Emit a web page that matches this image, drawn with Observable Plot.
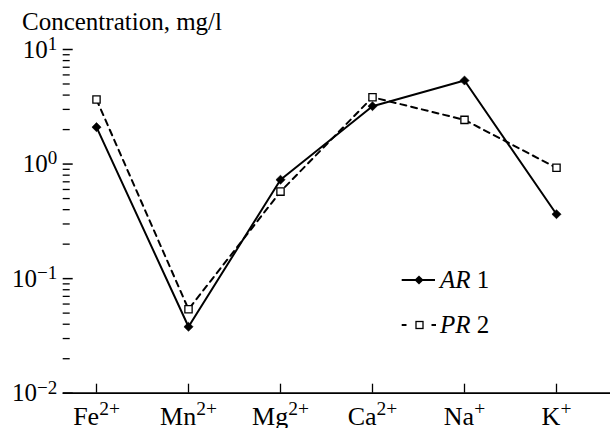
<!DOCTYPE html>
<html><head><meta charset="utf-8">
<script src="https://cdn.jsdelivr.net/npm/d3@7"></script>
<script src="https://cdn.jsdelivr.net/npm/@observablehq/plot@0.6"></script>
<style>
body{margin:0;background:#fff;}
#wrap{position:relative;width:610px;height:428px;font-family:"Liberation Serif","Times New Roman",serif;}
#title{position:absolute;left:22px;top:9px;font-size:25px;line-height:25px;color:#000;white-space:nowrap;}
#legend{position:absolute;left:0;top:0;pointer-events:none;}
</style></head><body>
<div id="wrap"><div id="title">Concentration, mg/l</div></div>
<script>
// ---- data ----
const ions = ["Fe", "Mn", "Mg", "Ca", "Na", "K"];
const charges = ["2+", "2+", "2+", "2+", "+", "+"];
const arValues = [2.1, 0.038, 0.73, 3.2, 5.36, 0.365];
const prValues = [3.66, 0.054, 0.575, 3.83, 2.43, 0.927];
const seriesItalic = ["AR", "PR"];
const seriesNumber = ["1", "2"];
const yTicks = [0.01, 0.1, 1, 10];
const yExponents = ["\u22122", "\u22121", "0", "1"];

const data = ions.map((ion, i) => ({ion, ar: arValues[i], pr: prValues[i]}));

const W = 610, H = 428, ML = 62.7, MR = 0, MT = 49, MB = 35.3;
const frameW = W - ML - MR, frameH = H - MT - MB;
const allTicks = d3.scaleLog().domain([0.01, 10]).ticks();
const minor = allTicks.filter(t => !yTicks.some(m => Math.abs(m - t) / m < 1e-9));
const font = '"Liberation Serif","Times New Roman",serif';

const chart = Plot.plot({
  width: W, height: H,
  marginLeft: ML, marginRight: MR, marginTop: MT, marginBottom: MB,
  style: {fontFamily: font, fontSize: "25px", background: "white", color: "black", overflow: "visible"},
  x: {type: "point", domain: ions, range: [96, 556.7], padding: 0},
  y: {type: "log", domain: [0.01, 10]},
  marks: [
    Plot.ruleY([0.01], {stroke: "black", strokeWidth: 1.8}),
    Plot.axisY({ticks: yTicks, tickSize: 0, tickPadding: 6, fontSize: 25, line: true, stroke: "black", strokeWidth: 1.8,
      tickFormat: d => "10^" + yExponents[yTicks.indexOf(d)], label: null}),
    Plot.axisX({tickSize: 0, tickPadding: 13.5, fontSize: 26, tickFormat: d => d, label: null}),
    Plot.tickY(minor, {y: d => d, insetRight: frameW - 7, stroke: "black", strokeWidth: 1.3}),
    Plot.tickY(yTicks, {y: d => d, insetRight: frameW - 10, stroke: "black", strokeWidth: 1.5}),
    Plot.tickX(ions, {x: d => d, insetTop: frameH - 9, stroke: "black", strokeWidth: 1.3}),
    Plot.line(data, {x: "ion", y: "pr", stroke: "black", strokeWidth: 2, strokeDasharray: "6,5"}),
    Plot.line(data, {x: "ion", y: "ar", stroke: "black", strokeWidth: 2}),
    Plot.dot(data, {x: "ion", y: "pr", symbol: "square", r: 4.1, fill: "white", stroke: "black", strokeWidth: 1.3}),
    Plot.dot(data, {x: "ion", y: "ar", symbol: "diamond2", r: 4.1, fill: "black", stroke: "black", strokeWidth: 0.6})
  ]
});
document.getElementById("wrap").appendChild(chart);

const svg = d3.select(chart);
// superscripts on y tick labels
svg.selectAll('g[aria-label="y-axis tick label"] text').each(function() {
  const s = this.textContent;
  const k = s.indexOf("^");
  if (k < 0) return;
  const base = s.slice(0, k), sup = s.slice(k + 1);
  const t = d3.select(this);
  t.text(base);
  t.append("tspan").attr("dy", "-0.4em").attr("font-size", 19).text(sup);
});
// superscripts on x tick labels
svg.selectAll('g[aria-label="x-axis tick label"] text').each(function() {
  const s = this.textContent;
  const i = ions.indexOf(s);
  if (i < 0) return;
  d3.select(this).append("tspan").attr("dy", "-0.5em").attr("font-size", 19.5).text(charges[i]);
});

// legend
const lg = d3.select("#wrap").append("svg").attr("id", "legend").attr("width", W).attr("height", H)
  .attr("font-family", font).attr("font-size", 25);
const rows = [{y: 280, dashed: false}, {y: 325, dashed: true}];
rows.forEach((r, i) => {
  if (!r.dashed) {
    lg.append("line").attr("x1", 401.7).attr("x2", 435).attr("y1", r.y).attr("y2", r.y).attr("stroke", "black").attr("stroke-width", 2);
    lg.append("path").attr("d", `M419,${r.y - 4.6}L423.6,${r.y}L419,${r.y + 4.6}L414.4,${r.y}Z`).attr("fill", "black");
  } else {
    lg.append("line").attr("x1", 401.7).attr("x2", 406.5).attr("y1", r.y).attr("y2", r.y).attr("stroke", "black").attr("stroke-width", 2);
    lg.append("line").attr("x1", 431.5).attr("x2", 436).attr("y1", r.y).attr("y2", r.y).attr("stroke", "black").attr("stroke-width", 2);
    lg.append("rect").attr("x", 416).attr("y", r.y - 3.5).attr("width", 7).attr("height", 7).attr("fill", "white").attr("stroke", "black").attr("stroke-width", 1.3);
  }
  const t = lg.append("text").attr("x", 440).attr("y", r.y + 8);
  t.append("tspan").attr("font-style", "italic").text(seriesItalic[i]);
  t.append("tspan").text(" " + seriesNumber[i]);
});
</script>
</body></html>
